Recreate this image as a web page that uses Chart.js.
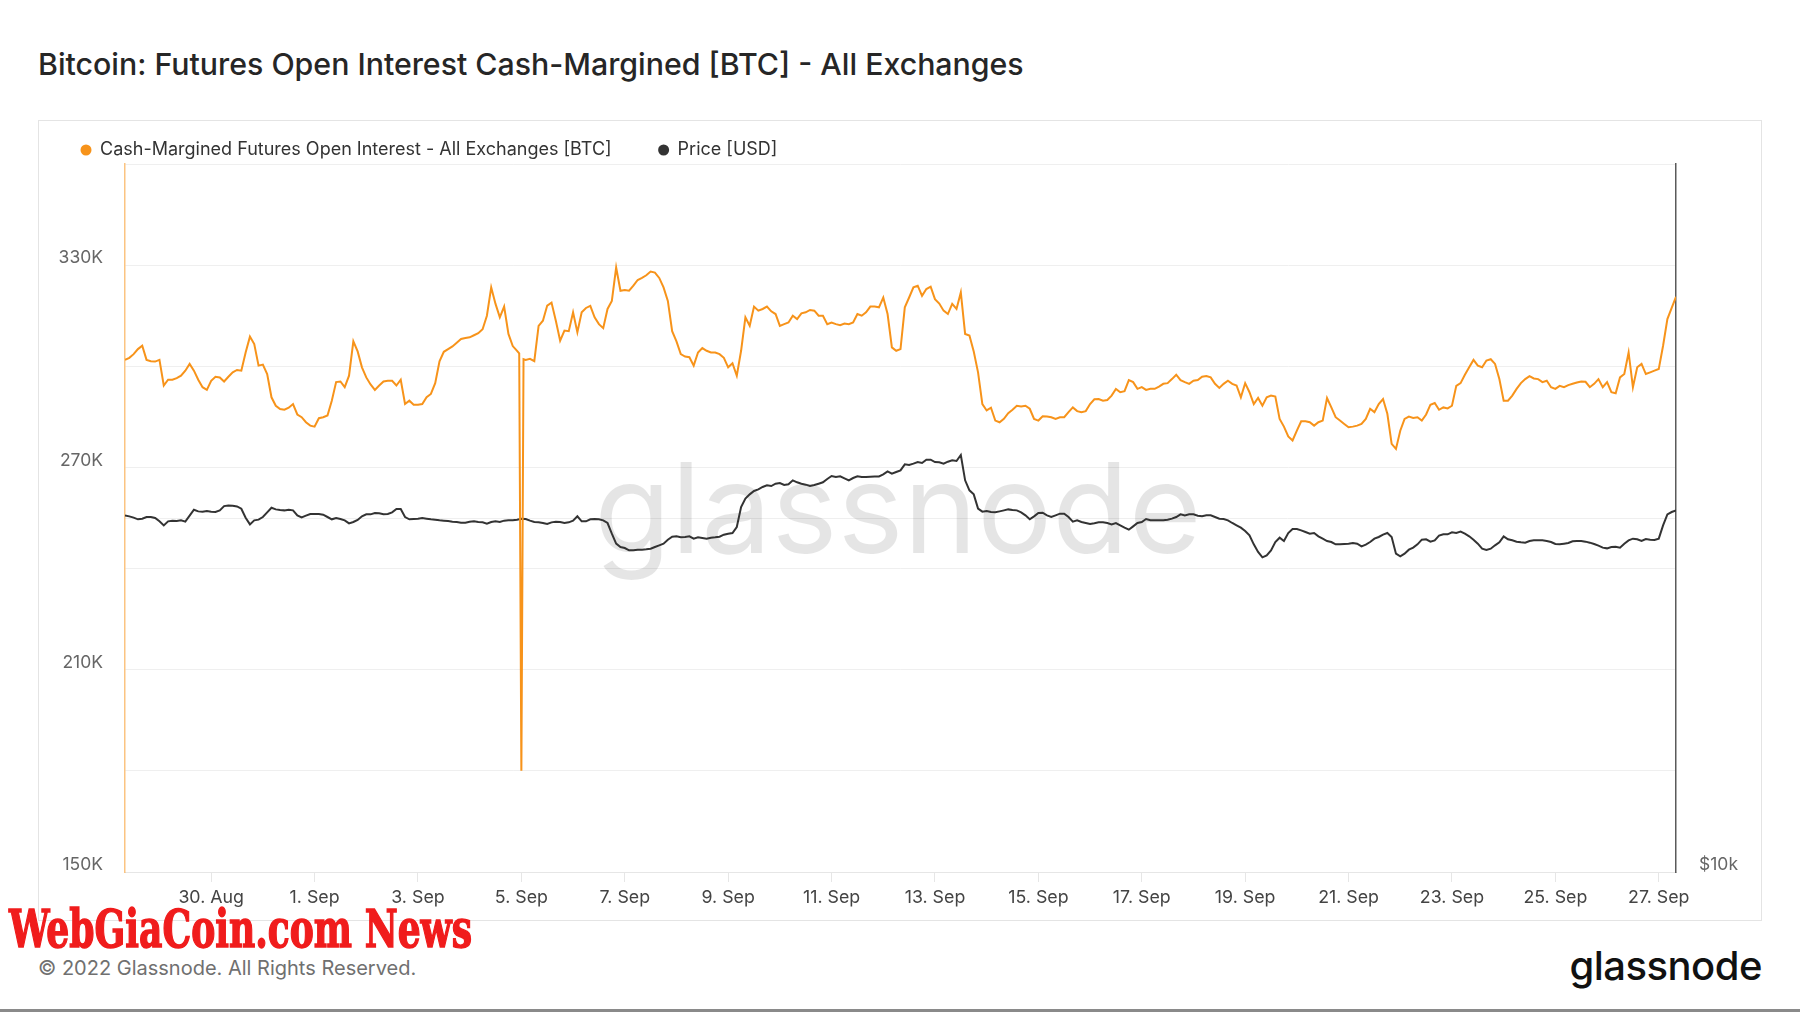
<!DOCTYPE html>
<html>
<head>
<meta charset="utf-8">
<script src="https://cdn.jsdelivr.net/npm/chart.js@4.4.1/dist/chart.umd.min.js"></script>
<style>
  html, body { margin: 0; padding: 0; background: #fff; }
  body { width: 1800px; height: 1013px; position: relative; overflow: hidden; font-family: Inter, "Noto Sans", sans-serif; }
  .title { position: absolute; left: 38px; top: 46px; font-size: 30.3px; line-height: 36px; color: #262626; font-weight: 500; white-space: nowrap; }
  .panel { position: absolute; left: 38px; top: 120px; width: 1722px; height: 799px; border: 1px solid #e4e4e4; }
  #chart { position: absolute; left: 0; top: 0; z-index: 2; }
  .copy { position: absolute; left: 38px; top: 956px; font-size: 20px; line-height: 24px; color: #707070; white-space: nowrap; }
  .logo { position: absolute; right: 38px; top: 946px; font-size: 40px; line-height: 40px; font-weight: 500; color: #111; letter-spacing: -0.5px; }
  .stamp { position: absolute; left: 9px; top: 903px; font-family: "DejaVu Serif Condensed", "DejaVu Serif", serif; font-weight: bold; font-size: 52px; line-height: 52px; color: #f01c1c; -webkit-text-stroke: 1.4px #f01c1c; white-space: nowrap; transform-origin: left top; z-index: 3; }
  .rule { position: absolute; left: 0; top: 1009px; width: 1800px; height: 3px; background: #8a8a8a; }
</style>
</head>
<body>
<div class="title">Bitcoin: Futures Open Interest Cash-Margined [BTC] - All Exchanges</div>
<div class="panel"></div>
<canvas id="chart" width="1800" height="1013"></canvas>
<div class="stamp" id="stamp">WebGiaCoin.com News</div>
<div class="copy">© 2022 Glassnode. All Rights Reserved.</div>
<div class="logo">glassnode</div>
<div class="rule"></div>
<script>
// hours counted from 28 Aug 2022 00:00 UTC, one reading every 2h
const START_HOUR = 8;
const STEP_HOURS = 2;
const X_TICK_HOURS = [48, 96, 144, 192, 240, 288, 336, 384, 432, 480, 528, 576, 624, 672, 720];
const MONTHS = ["Jan", "Feb", "Mar", "Apr", "May", "Jun", "Jul", "Aug", "Sep", "Oct", "Nov", "Dec"];

const OI_LABELLED = [150000, 210000, 270000, 330000];
const PRICE_TICKS = [10000, 20000];
const PRICE_LABELLED = [10000];

// Cash-margined futures open interest [BTC]
const oiBtc = [
  301900, 302500, 303600, 305100, 306100, 301900, 301500, 301400, 301900, 294300, 296000, 296000,
  296500, 297200, 298700, 300700, 298700, 296000, 293800, 293000, 295700, 296900, 296700, 295500,
  296900, 298200, 298900, 298700, 304100, 308800, 306600, 300200, 300500, 297700, 290800, 288300,
  287300, 287100, 287700, 288800, 285700, 284900, 283400, 282400, 282100, 284600, 284900, 285400,
  289800, 295300, 295500, 293800, 297200, 307400, 304400, 299700, 296700, 294600, 293000, 294300,
  295500, 295700, 295700, 294300, 296000, 288800, 289800, 288600, 288600, 288800, 290800, 291800,
  295000, 301500, 304300, 305100, 305900, 307000, 308100, 308400, 308600, 309200, 309800, 311000,
  315000, 323400, 318500, 314500, 317700, 309600, 306000, 304600, 180000, 301900, 302200, 301500,
  312000, 313500, 318000, 318900, 313500, 307600, 310600, 310400, 316000, 310100, 316000, 317300,
  317900, 314500, 312500, 311300, 317000, 319400, 329300, 322400, 322600, 322400, 323900, 325600,
  326200, 327000, 328100, 327800, 326200, 323400, 319400, 310400, 307400, 303600, 302900, 302700,
  300200, 304100, 305400, 304600, 304100, 304100, 303600, 302500, 299700, 300900, 297200, 304600,
  314500, 312000, 317700, 316500, 317000, 317700, 316300, 315500, 312000, 312500, 313000, 315000,
  314000, 315700, 316000, 316700, 316500, 315000, 315000, 312500, 313000, 312500, 312200, 312700,
  312500, 313000, 315500, 315000, 316000, 317700, 317700, 317500, 320400, 315500, 305600, 304600,
  305100, 317500, 320400, 323400, 323900, 320900, 322900, 323600, 319900, 318600, 316500, 315500,
  318500, 317000, 321900, 309600, 309100, 304400, 298200, 288800, 286900, 287700, 283900, 283400,
  284400, 286100, 287100, 288300, 288100, 288300, 287400, 284400, 283900, 285200, 285100, 284900,
  284400, 284900, 284900, 286400, 287800, 286700, 286400, 286700, 288800, 290200, 290300, 289800,
  290000, 291300, 293300, 292300, 292600, 295900, 295300, 293300, 293800, 293000, 293300, 293300,
  294000, 294800, 295000, 296200, 297500, 295900, 295300, 294800, 295700, 295900, 296900, 297100,
  296700, 294800, 293600, 294800, 295700, 294800, 294300, 290800, 295000, 292300, 288800, 290600,
  288300, 290800, 291300, 291000, 284400, 282100, 279200, 278000, 280900, 283700, 283700, 283400,
  282400, 283400, 283900, 290600, 287800, 284900, 283900, 282900, 281900, 282100, 282400, 282900,
  284400, 287400, 286400, 288800, 290300, 285900, 277000, 275500, 280900, 284400, 285100, 284700,
  284900, 283900, 285700, 288600, 289100, 287100, 287800, 287500, 288300, 294200, 295000, 297500,
  299700, 301900, 300200, 299700, 301700, 302100, 300700, 296200, 289800, 289800, 291300, 293300,
  295000, 296200, 297100, 296400, 296200, 295300, 295700, 293800, 293300, 294200, 293800, 294400,
  294800, 295200, 295500, 295400, 293800, 294800, 296200, 293800, 295300, 292300, 292000, 296700,
  297700, 304100, 293800, 299700, 300700, 297700, 298200, 298700, 299200, 306100, 314000, 317300,
  320600
];
// hourly readings either side of the 5 Sep dip
const OI_EXTRA_POINTS = [[191, 303800], [193, 302100]];

// BTC price [USD]
const priceUsd = [
  20104, 20065, 20013, 19948, 19974, 20039, 20039, 20000, 19870, 19713, 19870, 19896,
  19883, 19909, 19857, 20091, 20327, 20261, 20248, 20274, 20248, 20235, 20301, 20472,
  20498, 20485, 20459, 20367, 20013, 19752, 19909, 19935, 20039, 20222, 20406, 20340,
  20314, 20301, 20327, 20301, 20104, 20026, 20091, 20157, 20157, 20157, 20130, 20039,
  19948, 20000, 19961, 19909, 19791, 19843, 19922, 20065, 20144, 20144, 20196, 20183,
  20144, 20157, 20222, 20353, 20353, 20039, 19948, 19961, 19974, 20000, 19974, 19948,
  19935, 19909, 19896, 19883, 19857, 19843, 19817, 19817, 19857, 19870, 19843, 19830,
  19779, 19843, 19870, 19843, 19896, 19909, 19909, 19935, 19974, 19961, 19896, 19843,
  19830, 19805, 19766, 19830, 19857, 19843, 19805, 19830, 19896, 20065, 19870, 19870,
  19948, 19961, 19948, 19909, 19805, 19395, 19020, 18896, 18859, 18772, 18772, 18797,
  18797, 18809, 18834, 18896, 18958, 19020, 19168, 19282, 19295, 19257, 19270, 19295,
  19207, 19257, 19232, 19207, 19245, 19257, 19282, 19358, 19395, 19422, 19652, 20436,
  20772, 20948, 21086, 21154, 21252, 21321, 21293, 21390, 21418, 21335, 21362, 21531,
  21447, 21390, 21349, 21293, 21335, 21390, 21447, 21587, 21713, 21670, 21698, 21614,
  21531, 21628, 21698, 21670, 21670, 21684, 21698, 21698, 21784, 21913, 21813, 21885,
  21957, 22216, 22187, 22245, 22317, 22273, 22418, 22418, 22317, 22302, 22245, 22332,
  22389, 22360, 22627, 21531, 21114, 20948, 20370, 20250, 20275, 20236, 20223, 20262,
  20301, 20340, 20314, 20301, 20223, 20104, 19948, 20065, 20196, 20209, 20104, 20039,
  20104, 20170, 20170, 20039, 19857, 19909, 19843, 19805, 19766, 19792, 19830, 19830,
  19805, 19753, 19805, 19715, 19625, 19548, 19676, 19805, 19843, 19961, 19909, 19909,
  19909, 19909, 19935, 19974, 20039, 20144, 20104, 20144, 20144, 20091, 20065, 20104,
  20104, 20039, 19974, 19961, 19909, 19805, 19715, 19625, 19497, 19332, 18995, 18713,
  18519, 18591, 18773, 19082, 19244, 19119, 19421, 19574, 19574, 19523, 19459, 19396,
  19421, 19295, 19207, 19119, 19082, 18995, 18995, 19007, 19020, 19044, 19020, 18921,
  18983, 19082, 19207, 19270, 19358, 19421, 19270, 18651, 18555, 18651, 18798, 18872,
  18995, 19169, 19182, 19095, 19144, 19320, 19371, 19371, 19447, 19421, 19472, 19396,
  19295, 19169, 19020, 18834, 18786, 18834, 18958, 19070, 19295, 19182, 19144, 19095,
  19070, 19057, 19119, 19144, 19144, 19144, 19119, 19082, 19007, 18995, 19020, 19044,
  19107, 19119, 19119, 19095, 19057, 19007, 18946, 18872, 18846, 18896, 18908, 18872,
  19020, 19144, 19207, 19182, 19119, 19194, 19169, 19157, 19207, 19715, 20144, 20236,
  20301
];

const toPoints = (arr) => arr.map((v, i) => ({ x: START_HOUR + i * STEP_HOURS, y: v }));

const oiPoints = toPoints(oiBtc)
  .concat(OI_EXTRA_POINTS.map(([h, v]) => ({ x: h, y: v })))
  .sort((a, b) => a.x - b.x);

function dayLabel(hour) {
  const d = new Date(Date.UTC(2022, 7, 28) + hour * 3600000);
  return d.getUTCDate() + ". " + MONTHS[d.getUTCMonth()];
}

// faint brand mark behind the lines
const watermark = {
  id: "watermark",
  beforeDatasetsDraw(chart) {
    const ctx = chart.ctx;
    ctx.save();
    ctx.font = "400 125px Inter";
    ctx.fillStyle = "rgba(0,0,0,0.1)";
    ctx.textAlign = "center";
    ctx.textBaseline = "alphabetic";
    ctx.fillText("glassnode", 898, 553);
    ctx.restore();
  },
};

// legend row like glassnode's: dot + text, left aligned
const topLegend = {
  id: "topLegend",
  afterDraw(chart) {
    const ctx = chart.ctx;
    ctx.save();
    ctx.font = "18px Inter";
    ctx.textBaseline = "middle";
    let x = 81;
    chart.data.datasets.forEach((ds) => {
      ctx.fillStyle = ds.borderColor;
      ctx.beginPath();
      ctx.arc(x + 5, 150, 5.5, 0, Math.PI * 2);
      ctx.fill();
      ctx.fillStyle = "#333";
      ctx.fillText(ds.label, x + 19, 150);
      x += 19 + ctx.measureText(ds.label).width + 47;
    });
    ctx.restore();
  },
};

const ctx = document.getElementById("chart").getContext("2d");
new Chart(ctx, {
  type: "line",
  data: {
    datasets: [
      {
        label: "Cash-Margined Futures Open Interest - All Exchanges [BTC]",
        data: oiPoints,
        yAxisID: "yOi",
        borderColor: "#f7931a",
        borderWidth: 2,
        pointRadius: 0,
        tension: 0,
      },
      {
        label: "Price [USD]",
        data: toPoints(priceUsd),
        yAxisID: "yPrice",
        borderColor: "#333333",
        borderWidth: 2,
        pointRadius: 0,
        tension: 0,
      },
    ],
  },
  options: {
    responsive: false,
    animation: false,
    devicePixelRatio: 1,
    layout: { padding: { top: 164, left: 0, right: 0, bottom: 0 } },
    plugins: {
      legend: { display: false },
      tooltip: { enabled: false },
    },
    scales: {
      x: {
        type: "linear",
        min: 8,
        max: 728,
        afterBuildTicks: (axis) => {
          axis.ticks = X_TICK_HOURS.map((v) => ({ value: v }));
        },
        afterFit: (axis) => {
          axis.height = 141;
        },
        grid: { drawOnChartArea: false, drawTicks: true, tickLength: 10, color: "#e6e6e6" },
        border: { color: "#e6e6e6" },
        ticks: {
          callback: (v) => dayLabel(v),
          color: "#444",
          font: { family: "Inter", size: 17.8 },
          padding: 5,
          maxRotation: 0,
          autoSkip: false,
        },
      },
      yOi: {
        position: "left",
        min: 150000,
        max: 360000,
        afterFit: (axis) => {
          axis.width = 125;
        },
        grid: { color: "#efefef", drawTicks: false },
        border: { color: "rgba(247,147,26,0.55)", width: 1.5 },
        ticks: {
          stepSize: 30000,
          callback: (v) => (OI_LABELLED.includes(v) ? v / 1000 + "K" : ""),
          color: "#666",
          font: { family: "Inter", size: 17.5 },
          padding: 22,
          labelOffset: -7,
        },
      },
      yPrice: {
        type: "logarithmic",
        position: "right",
        min: 10000,
        max: 40000,
        afterBuildTicks: (axis) => {
          axis.ticks = PRICE_TICKS.map((v) => ({ value: v }));
        },
        afterFit: (axis) => {
          axis.width = 124;
        },
        grid: { color: "#efefef", drawTicks: false },
        border: { color: "#5a5a5a", width: 1.5 },
        ticks: {
          callback: (v) => (PRICE_LABELLED.includes(v) ? "$" + v / 1000 + "k" : ""),
          color: "#666",
          font: { family: "Inter", size: 17.5 },
          padding: 23,
          labelOffset: -7,
        },
      },
    },
  },
  plugins: [watermark, topLegend],
});

// squeeze the red stamp to the width it has in the source image
const stamp = document.getElementById("stamp");
const w = stamp.getBoundingClientRect().width;
stamp.style.transform = "scaleX(" + (463 / w) + ")";
</script>
</body>
</html>
